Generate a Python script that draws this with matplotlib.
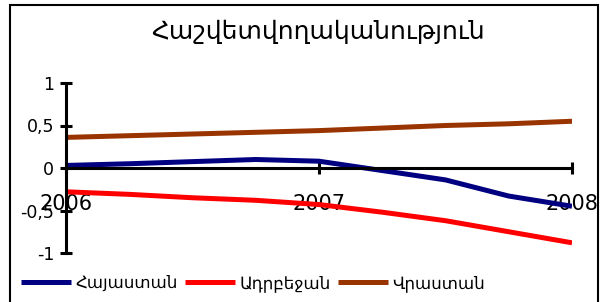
import numpy as np
import matplotlib
matplotlib.use('Agg')
from matplotlib import pyplot as plt
from matplotlib.patches import Rectangle

# quarterly points 2006 .. 2008
years = [2006, 2006.25, 2006.5, 2006.75, 2007, 2007.25, 2007.5, 2007.75, 2008]
armenia = [0.03, 0.05, 0.075, 0.10, 0.08, -0.03, -0.14, -0.33, -0.45]
azerbaijan = [-0.28, -0.31, -0.35, -0.38, -0.43, -0.52, -0.62, -0.75, -0.88]
georgia = [0.36, 0.38, 0.40, 0.42, 0.44, 0.47, 0.50, 0.52, 0.55]
names = ['Հայաստան', 'Ադրբեջան', 'Վրաստան']
colors = ['#000080', '#FF0000', '#993300']
title = 'Հաշվետվողականություն'
yticks = [-1, -0.5, 0, 0.5, 1]
ylabels = ['-1', '-0,5', '0', '0,5', '1']
xticks = [2006, 2007, 2008]

plt.rcParams['font.family'] = ['DejaVu Sans']

fig = plt.figure(figsize=(6.08, 3.02), dpi=100)
fig.patches.append(Rectangle((10/608, -0.05), 588/608, 1 - 5/302 + 0.05,
                             transform=fig.transFigure, fill=False,
                             edgecolor='black', linewidth=1.5))

ax = fig.add_axes([66/608, 49/302, 506/608, 170/302])
for vals, c, n in zip([armenia, azerbaijan, georgia], colors, names):
    ax.plot(years, vals, color=c, linewidth=3.6, label=n, solid_capstyle='butt')

ax.set_xlim(2006, 2008)
ax.set_ylim(-1, 1)
for s in ['top', 'right']:
    ax.spines[s].set_visible(False)
ax.spines['bottom'].set_position(('data', 0))
ax.spines['bottom'].set_linewidth(2.2)
ax.spines['left'].set_linewidth(2.2)
ax.spines['left'].set_zorder(5)
ax.set_yticks(yticks)
ax.set_yticklabels(ylabels)
ax.set_xticks(xticks)
ax.set_xticklabels([str(x) for x in xticks])
ax.tick_params(axis='y', direction='inout', length=9, width=2.2, labelsize=12.5, pad=4)
ax.tick_params(axis='x', direction='inout', length=9, width=2.2, labelsize=15, pad=14)

fig.text(318/608, 1 - 32/302, title, ha='center', va='center', fontsize=18)

fig.legend(loc='center left', bbox_to_anchor=(14/608, 1 - 283/302), ncol=3,
           frameon=False, fontsize=12, handlelength=3.0, handletextpad=0.3,
           columnspacing=0.4, borderaxespad=0)

fig.savefig('out.png', dpi=100)
